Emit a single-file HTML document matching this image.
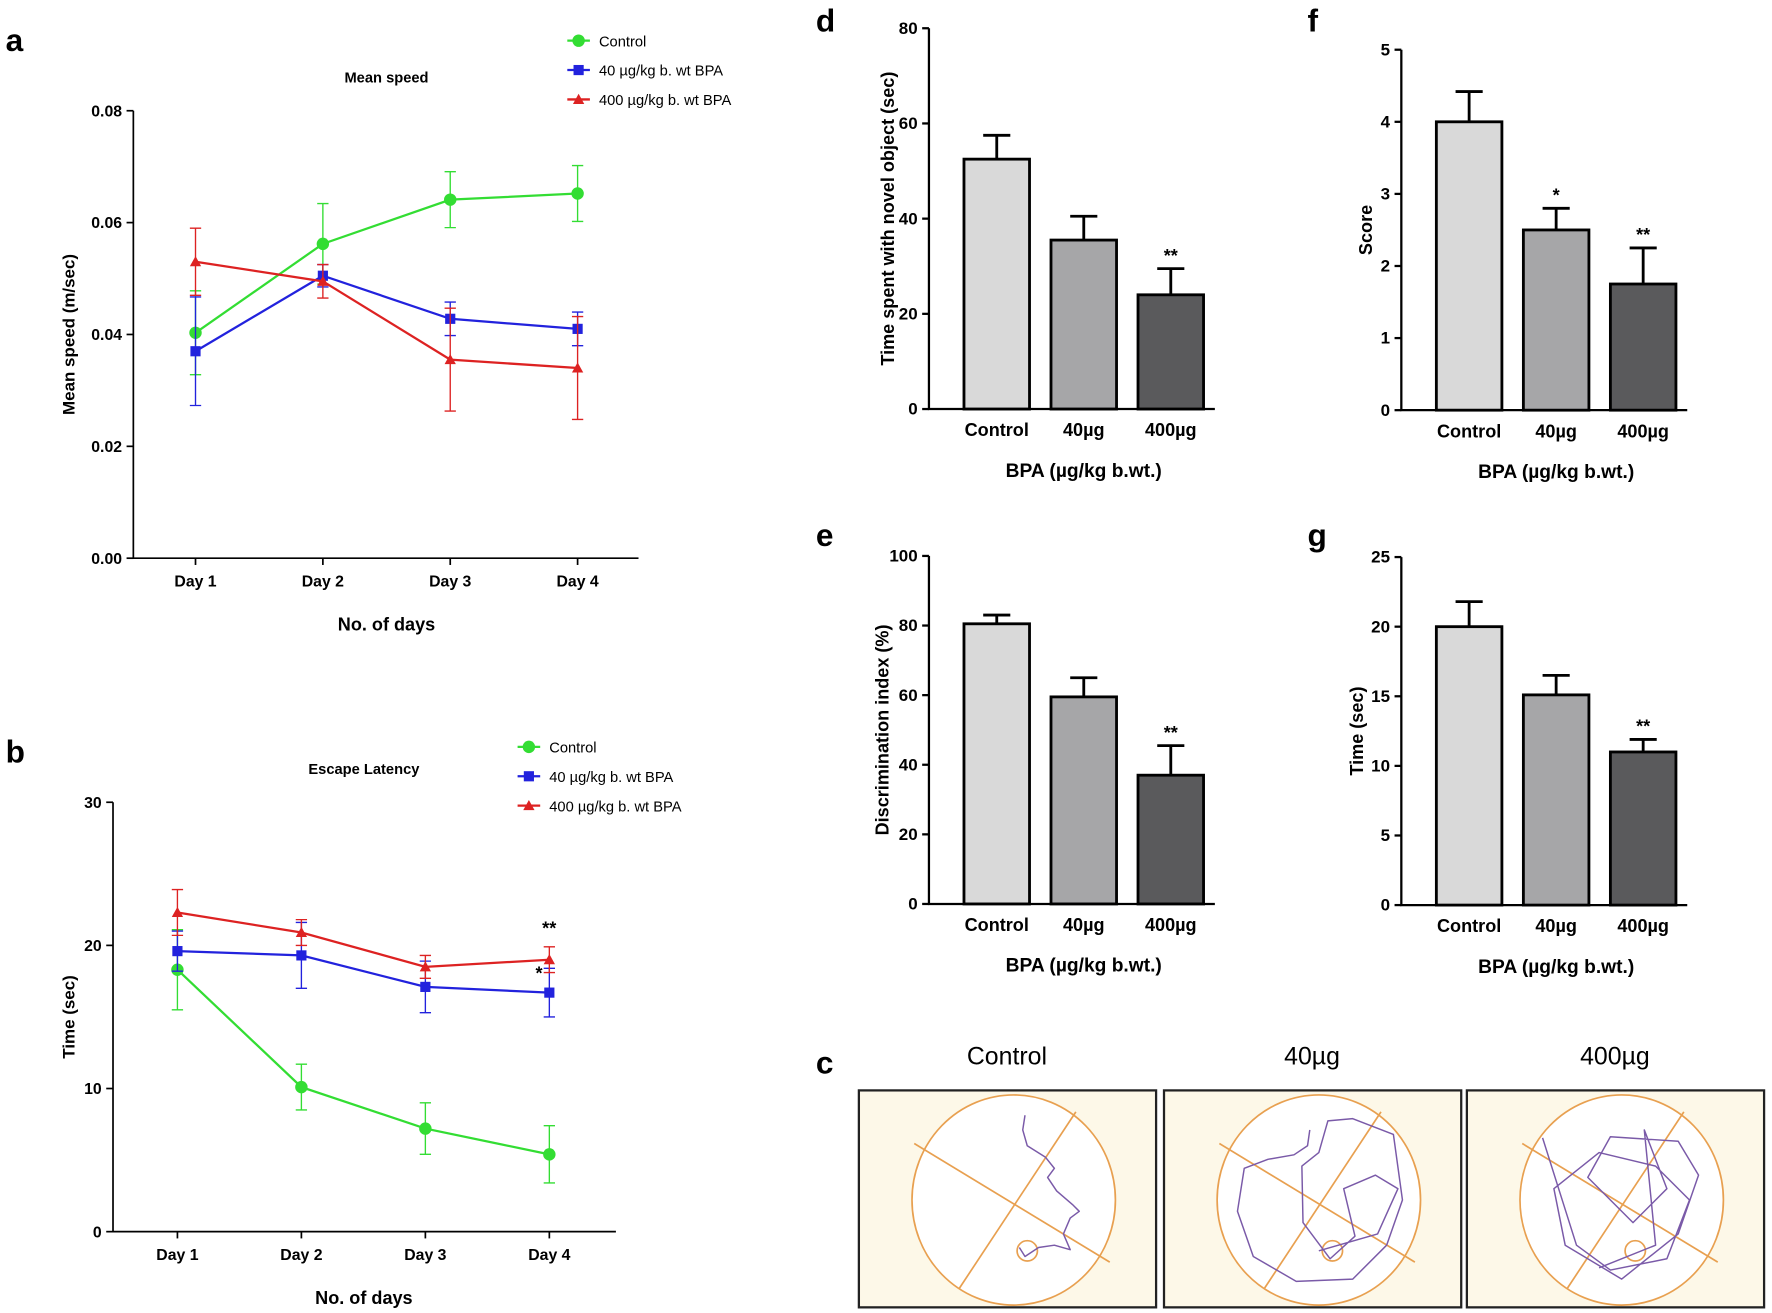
<!DOCTYPE html>
<html><head><meta charset="utf-8"><style>
html,body{margin:0;padding:0;background:#fff;}
svg{display:block;font-family:"Liberation Sans",Arial,sans-serif;}
</style></head><body>
<svg id="fig" width="1772" height="1313" viewBox="0 0 1568 1162" preserveAspectRatio="none"></svg>
<script>
// Panel a data
const daysA = ["Day 1","Day 2","Day 3","Day 4"];
const aTicks = [0,0.02,0.04,0.06,0.08];
const aControl = [0.0403,0.0562,0.0641,0.0652];
const aControlErr = [0.0075,0.0072,0.005,0.005];
const a40 = [0.037,0.0505,0.0428,0.041];
const a40Err = [0.0097,0.002,0.003,0.003];
const a400 = [0.053,0.0495,0.0355,0.034];
const a400Err = [0.006,0.003,0.0092,0.0092];
// Panel b data
const bTicks = [0,10,20,30];
const bControl = [18.3,10.1,7.2,5.4];
const bControlErr = [2.8,1.6,1.8,2.0];
const b40 = [19.6,19.3,17.1,16.7];
const b40Err = [1.4,2.3,1.8,1.7];
const b400 = [22.3,20.9,18.5,19.0];
const b400Err = [1.6,0.9,0.8,0.9];
// Bar panels
const barCats = ["Control","40µg","400µg"];
const dVals = [52.5,35.5,24]; const dErr = [5,5,5.5]; const dTicks=[0,20,40,60,80];
const fVals = [4.0,2.5,1.75]; const fErr = [0.42,0.3,0.5]; const fTicks=[0,1,2,3,4,5];
const eVals = [80.5,59.5,37]; const eErr = [2.5,5.5,8.5]; const eTicks=[0,20,40,60,80,100];
const gVals = [20,15.1,11]; const gErr = [1.8,1.4,0.9]; const gTicks=[0,5,10,15,20,25];

const NS="http://www.w3.org/2000/svg";
const svg=document.getElementById('fig');
function el(tag,attrs,parent,txt){const e=document.createElementNS(NS,tag);for(const k in attrs)e.setAttribute(k,attrs[k]);if(txt!==undefined)e.textContent=txt;(parent||svg).appendChild(e);return e;}

function panelLetter(t,x,y){const e=el('text',{x:x,y:y,'font-size':28,'font-weight':'bold'},svg,t);

}

function lineChart(o){
  const g=el('g',{});
  
  
  const ymax=o.ticks[o.ticks.length-1];
  const Y=v=>o.y0-(v/ymax)*(o.y0-o.yTop);
  const X=i=>o.xs0+i*o.dx;
  const ax=el('path',{d:`M${o.x0},${o.yTop}V${o.y0}H${o.xEnd}`,stroke:'#000','stroke-width':1.5,fill:'none'},g);
  
  
  o.ticks.forEach(t=>{el('line',{x1:o.x0-6,x2:o.x0,y1:Y(t),y2:Y(t),stroke:'#000','stroke-width':1.5},g);
    const tl=el('text',{x:o.x0-10,y:Y(t)+5,'font-size':14,'font-weight':'bold','text-anchor':'end'},g,o.fmt(t));
    
    });
  daysA.forEach((d,i)=>{el('line',{x1:X(i),x2:X(i),y1:o.y0,y2:o.y0+6,stroke:'#000','stroke-width':1.5},g);
    const tl=el('text',{x:X(i),y:o.y0+25,'font-size':14,'font-weight':'bold','text-anchor':'middle'},g,d);
    
    });
  const yl=el('text',{transform:`translate(${o.ylx},${(o.y0+o.yTop)/2}) rotate(-90)`,'font-size':15,'font-weight':'bold','text-anchor':'middle'},g,o.ylabel);
  
  
  const xl=el('text',{x:o.tx,y:o.y0+64,'font-size':16,'font-weight':'bold','text-anchor':'middle'},g,'No. of days');
  
  
  const tt=el('text',{x:o.tx,y:o.ty,'font-size':13,'font-weight':'bold','text-anchor':'middle'},g,o.title);
  
  
  o.series.forEach(s=>{
    const sg=el('g',{},g);
    
    
    s.v.forEach((v,i)=>{const x=X(i);el('path',{d:`M${x},${Y(v-s.e[i])}V${Y(v+s.e[i])}M${x-5},${Y(v-s.e[i])}h10M${x-5},${Y(v+s.e[i])}h10`,stroke:s.c,'stroke-width':1.2,fill:'none'},sg);});
    el('polyline',{points:s.v.map((v,i)=>X(i)+','+Y(v)).join(' '),stroke:s.c,'stroke-width':2,fill:'none'},sg);
    s.v.forEach((v,i)=>marker(sg,s.m,X(i),Y(v),s.c));
  });
  o.series.forEach((s,k)=>{const ly=o.ly+k*26;
    const lg=el('g',{},g);
    
    
    el('line',{x1:o.lx-10,x2:o.lx+10,y1:ly,y2:ly,stroke:s.c,'stroke-width':2},lg);
    marker(lg,s.m,o.lx,ly,s.c);
    el('text',{x:o.lx+18,y:ly+5,'font-size':13},lg,s.label);});
}
function marker(p,m,x,y,c){
  if(m==='o')el('circle',{cx:x,cy:y,r:5.5,fill:c},p);
  else if(m==='s')el('rect',{x:x-4.5,y:y-4.5,width:9,height:9,fill:c},p);
  else el('path',{d:`M${x},${y-5}L${x+5},${y+4}L${x-5},${y+4}Z`,fill:c},p);
}
const G='#33dd33',B='#2222dd',R='#dd2222';
panelLetter('a',5,45);
lineChart({name:'mean-speed-chart',x0:118,xEnd:565,y0:494,yTop:98,xs0:173,dx:112.7,ticks:aTicks,fmt:t=>t.toFixed(2),ylx:66,ylabel:'Mean speed (m/sec)',tx:342,ty:73,title:'Mean speed',lx:512,ly:36,
 series:[{key:'control',v:aControl,e:aControlErr,c:G,m:'o',label:'Control'},{key:'40',v:a40,e:a40Err,c:B,m:'s',label:'40 µg/kg b. wt BPA'},{key:'400',v:a400,e:a400Err,c:R,m:'t',label:'400 µg/kg b. wt BPA'}]});
panelLetter('b',5,675);
lineChart({name:'escape-latency-chart',x0:100,xEnd:545,y0:1090,yTop:710,xs0:157,dx:109.7,ticks:bTicks,fmt:t=>t,ylx:66,ylabel:'Time (sec)',tx:322,ty:685,title:'Escape Latency',lx:468,ly:661,
 series:[{key:'control',v:bControl,e:bControlErr,c:G,m:'o',label:'Control'},{key:'40',v:b40,e:b40Err,c:B,m:'s',label:'40 µg/kg b. wt BPA'},{key:'400',v:b400,e:b400Err,c:R,m:'t',label:'400 µg/kg b. wt BPA'}]});
el('text',{x:486,y:827,'font-size':16,'font-weight':'bold','text-anchor':'middle'},svg,'**');
el('text',{x:477,y:867,'font-size':16,'font-weight':'bold','text-anchor':'middle'},svg,'*');

const barFill=['#d9d9d9','#a6a6a8','#5a5a5c'];
function barChart(o){
  const g=el('g',{});
  
  
  const ymax=o.ticks[o.ticks.length-1];
  const Y=v=>o.y0-(v/ymax)*(o.y0-o.yTop);
  const X=i=>o.x0+60+i*77;
  o.vals.forEach((v,i)=>{const x=X(i);
    el('path',{d:`M${x},${Y(v)}V${Y(v+o.err[i])}M${x-12},${Y(v+o.err[i])}h24`,stroke:'#000','stroke-width':2.5,fill:'none'},g);
    const b=el('rect',{x:x-29,y:Y(v),width:58,height:o.y0-Y(v),fill:barFill[i],stroke:'#000','stroke-width':2.5},g);
    
    
    if(o.stars[i])el('text',{x:x,y:Y(v+o.err[i])-6,'font-size':16,'font-weight':'bold','text-anchor':'middle'},g,o.stars[i]);
    const tl=el('text',{x:x,y:o.y0+24,'font-size':16,'font-weight':'bold','text-anchor':'middle'},g,barCats[i]);
    
    
  });
  el('path',{d:`M${o.x0},${o.yTop}V${o.y0}H${o.x0+253}`,stroke:'#000','stroke-width':2,fill:'none'},g);
  o.ticks.forEach(t=>{el('line',{x1:o.x0-6,x2:o.x0,y1:Y(t),y2:Y(t),stroke:'#000','stroke-width':2},g);
    const tl=el('text',{x:o.x0-10,y:Y(t)+5,'font-size':15,'font-weight':'bold','text-anchor':'end'},g,t);
    
    });
  const yl=el('text',{transform:`translate(${o.x0-26-o.tw},${(o.y0+o.yTop)/2}) rotate(-90)`,'font-size':16,'font-weight':'bold','text-anchor':'middle'},g,o.ylabel);
  
  
  const xl=el('text',{x:o.x0+137,y:o.y0+60,'font-size':17,'font-weight':'bold','text-anchor':'middle'},g,'BPA (µg/kg b.wt.)');
  
  
}
panelLetter('d',722,28);
barChart({name:'novel-object-chart',x0:822,y0:362,yTop:25,tw:5,vals:dVals,err:dErr,ticks:dTicks,ylabel:'Time spent with novel object (sec)',stars:['','','**']});
panelLetter('f',1157,28);
barChart({name:'score-chart',x0:1240,y0:363,yTop:44,tw:0,vals:fVals,err:fErr,ticks:fTicks,ylabel:'Score',stars:['','*','**']});
panelLetter('e',722,483);
barChart({name:'discrimination-index-chart',x0:822,y0:800,yTop:492,tw:10,vals:eVals,err:eErr,ticks:eTicks,ylabel:'Discrimination index (%)',stars:['','','**']});
panelLetter('g',1157,483);
barChart({name:'time-chart',x0:1240,y0:801,yTop:493,tw:8,vals:gVals,err:gErr,ticks:gTicks,ylabel:'Time (sec)',stars:['','','**']});

// Panel c tracks (offsets relative to arena centre)
panelLetter('c',722,950);
const cLabels=['Control','40µg','400µg'];
const tracks=[
 [[10,-75],[8,-62],[12,-48],[28,-38],[36,-28],[30,-20],[38,-8],[52,4],[58,10],[50,16],[44,30],[50,44],[36,40],[22,42],[10,50],[5,42]],
 [[-8,-62],[-10,-48],[-22,-40],[-45,-36],[-66,-28],[-72,10],[-58,50],[-20,72],[30,70],[60,40],[74,0],[66,-58],[30,-72],[8,-70],[0,-42],[-15,-30],[-14,20],[10,52],[32,32],[22,-10],[50,-22],[70,-10],[52,30],[0,45]],
 [[-70,-55],[-40,40],[-10,62],[40,52],[60,0],[30,-30],[-20,-42],[-60,-10],[-50,40],[0,70],[50,30],[68,-22],[50,-52],[-10,-56],[-30,-20],[10,20],[40,-10],[20,-62],[30,40],[-20,60]]
];
[760,1030,1298].forEach((bx,i)=>{
  const g=el('g',{});
  
  
  el('rect',{x:bx,y:965,width:263,height:192,fill:'#fdf8e8',stroke:'#222','stroke-width':2},g);
  const cx=bx+137,cy=1062;
  el('ellipse',{cx:cx,cy:cy,rx:90,ry:93,fill:'#fff',stroke:'#e8a050','stroke-width':1.5},g);
  el('line',{x1:cx-88,x2:cx+85,y1:cy-50,y2:cy+55,stroke:'#e8a050','stroke-width':1.5},g);
  el('line',{x1:cx-48,x2:cx+55,y1:cy+78,y2:cy-78,stroke:'#e8a050','stroke-width':1.5},g);
  el('circle',{cx:cx+12,cy:cy+45,r:9,fill:'none',stroke:'#e8a050','stroke-width':1.5},g);
  el('polyline',{points:tracks[i].map(p=>(cx+p[0])+','+(cy+p[1])).join(' '),fill:'none',stroke:'#7a5aa8','stroke-width':1.3,'stroke-linejoin':'round'},g);
  const t=el('text',{x:bx+131,y:942,'font-size':22,'text-anchor':'middle'},svg,cLabels[i]);
  
  
});
</script>
</body></html>
